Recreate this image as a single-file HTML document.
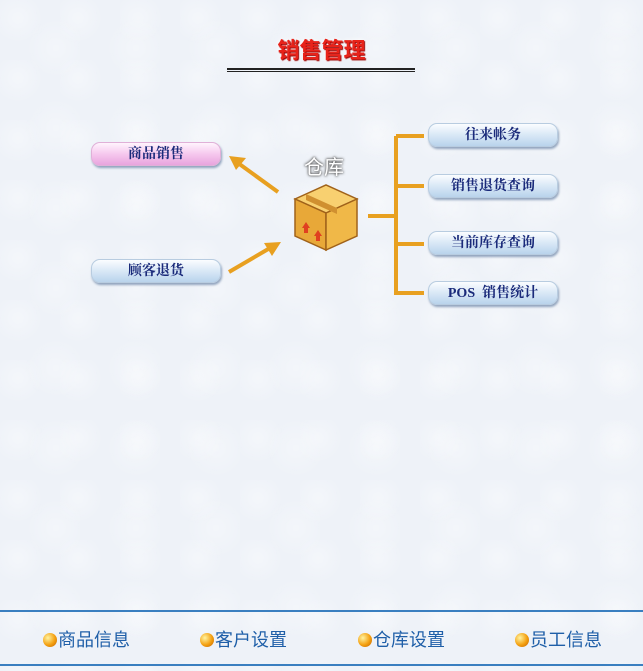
<!DOCTYPE html>
<html><head><meta charset="utf-8"><style>
body{margin:0;width:643px;height:671px;overflow:hidden;background:#eef2f8;font-family:"Liberation Sans","Noto Sans CJK SC",sans-serif;position:relative}
.bg{position:absolute;inset:0;background:
radial-gradient(circle at 30% 30%,rgba(255,255,255,.35) 0,transparent 25px),
radial-gradient(circle at 70% 60%,rgba(255,255,255,.3) 0,transparent 30px);background-size:60px 60px,80px 80px}
.t{position:absolute;left:0;width:643px;top:33px;text-align:center;font-size:22px;font-weight:bold;color:#e8231a;text-shadow:1px 1px 1px #900,0 0 4px #fff}
.hl{position:absolute;left:227px;width:188px;height:0;border-top:2px solid #222;}
.btn{position:absolute;width:130px;height:24px;border-radius:9px;text-align:center;line-height:24px;font-size:14px;font-weight:bold;color:#1a2a7a;font-family:"Liberation Serif","Noto Serif CJK SC",serif;box-shadow:1px 2px 2px rgba(80,110,150,.6);border:1px solid #b8cce0;box-sizing:border-box}
.b{background:linear-gradient(#fbfdff 0%,#dceaf7 45%,#b9d3ec 100%)}
.p{background:linear-gradient(#fff4fd 0%,#f6c8ee 50%,#e8a4de 100%);border-color:#e0b0d8}
.f{position:absolute;top:628px;font-size:18px;color:#1f5fa8;line-height:24px}
.f i{display:inline-block;width:14px;height:14px;border-radius:50%;background:radial-gradient(circle at 35% 35%,#fff3a0,#f4a010 55%,#c06000);vertical-align:-1px;margin-right:1px}
.ln{position:absolute;left:0;width:643px;height:2px;background:#3a7fc0}
</style></head><body>
<div class="bg"></div>
<div class="t">销售管理</div>
<div class="hl" style="top:68px"></div><div class="hl" style="top:71px;border-top-width:1px"></div>
<div class="btn p" style="left:91px;top:142px">商品销售</div>
<div class="btn b" style="left:91px;top:259px">顾客退货</div>
<div class="btn b" style="left:428px;top:123px">往来帐务</div>
<div class="btn b" style="left:428px;top:174px">销售退货查询</div>
<div class="btn b" style="left:428px;top:231px">当前库存查询</div>
<div class="btn b" style="left:428px;top:281px">POS&nbsp; 销售统计</div>
<div style="position:absolute;left:304px;top:151px;font-size:20px;color:#fff;text-shadow:0 0 2px #444,0 0 3px #666">仓库</div>
<svg width="643" height="671" style="position:absolute;left:0;top:0">
<g stroke="#e8a020" stroke-width="4" fill="none">
<path d="M278 192 L238 163"/><path d="M229 272 L270 248"/>
<path d="M368 216 H396 M396 136 V295 M396 136 H424 M396 186 H424 M396 244 H424 M396 293 H424"/>
</g>
<polygon points="229,156 246,158 236,170" fill="#e8a020"/>
<polygon points="281,242 264,243 272,256" fill="#e8a020"/>
<g stroke="#a0621a" stroke-width="1.5">
<polygon points="295,199 326,185 357,199 326,213" fill="#f8d070"/>
<polygon points="295,199 326,213 326,250 295,236" fill="#e8a838"/>
<polygon points="326,213 357,199 357,236 326,250" fill="#f0b848"/>
</g>
<path d="M306 194 L337 208 V214 L306 200Z" fill="#d09030"/>
<path d="M302 228 l4-6 4 6h-2v5h-4v-5z M314 236 l4-6 4 6h-2v5h-4v-5z" fill="#e04020"/>
</svg>
<div class="ln" style="top:610px"></div>
<div class="ln" style="top:664px"></div>
<div class="f" style="left:43px"><i></i>商品信息</div>
<div class="f" style="left:200px"><i></i>客户设置</div>
<div class="f" style="left:358px"><i></i>仓库设置</div>
<div class="f" style="left:515px"><i></i>员工信息</div>
</body></html>
